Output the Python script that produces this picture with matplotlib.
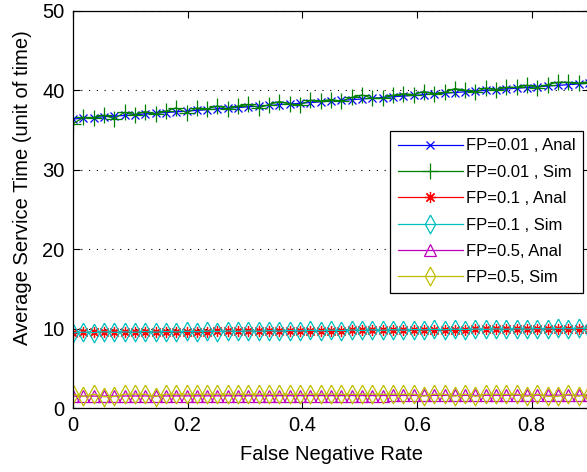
"""Average service time vs false negative rate (analytical vs simulated)."""

import numpy as np
import matplotlib

matplotlib.use("Agg")
import matplotlib.pyplot as plt

# false negative rate grid (0 .. 0.9, 51 points)
fnr = np.linspace(0.0, 0.9, 51)

anal_fp001 = [
    36.40, 36.49, 36.58, 36.67, 36.76, 36.85, 36.94, 37.03, 37.12, 37.21,
    37.30, 37.39, 37.48, 37.57, 37.66, 37.75, 37.84, 37.93, 38.02, 38.11,
    38.20, 38.29, 38.38, 38.47, 38.56, 38.65, 38.74, 38.83, 38.92, 39.01,
    39.10, 39.19, 39.28, 39.37, 39.46, 39.55, 39.64, 39.73, 39.82, 39.91,
    40.00, 40.09, 40.18, 40.27, 40.36, 40.45, 40.54, 40.63, 40.72, 40.81, 40.90,
]
sim_fp001 = [
    35.80, 36.59, 36.58, 36.87, 36.46, 37.25, 36.94, 37.33, 37.02, 37.41,
    37.80, 37.19, 37.78, 37.67, 38.06, 37.65, 38.04, 38.23, 37.82, 38.21,
    38.60, 38.29, 38.18, 38.77, 38.66, 38.85, 38.64, 39.13, 39.42, 39.01,
    39.00, 39.39, 39.58, 39.47, 39.86, 39.55, 39.74, 40.23, 40.02, 39.81,
    40.30, 40.09, 40.38, 40.37, 40.66, 40.35, 40.74, 41.03, 41.02, 40.91, 41.10,
]
anal_fp01 = [
    9.50, 9.51, 9.52, 9.53, 9.54, 9.55, 9.56, 9.57, 9.58, 9.59,
    9.60, 9.61, 9.62, 9.63, 9.64, 9.65, 9.66, 9.67, 9.68, 9.69,
    9.70, 9.71, 9.72, 9.73, 9.74, 9.75, 9.76, 9.77, 9.78, 9.79,
    9.80, 9.81, 9.82, 9.83, 9.84, 9.85, 9.86, 9.87, 9.88, 9.89,
    9.90, 9.91, 9.92, 9.93, 9.94, 9.95, 9.96, 9.97, 9.98, 9.99, 10.00,
]
sim_fp01 = [
    9.45, 9.55, 9.50, 9.60, 9.52, 9.58, 9.54, 9.62, 9.55, 9.63,
    9.58, 9.66, 9.60, 9.68, 9.62, 9.70, 9.64, 9.71, 9.66, 9.74,
    9.68, 9.76, 9.70, 9.78, 9.72, 9.80, 9.74, 9.82, 9.77, 9.84,
    9.79, 9.86, 9.81, 9.88, 9.84, 9.90, 9.86, 9.92, 9.88, 9.94,
    9.90, 9.96, 9.92, 9.98, 9.94, 10.00, 9.96, 10.02, 9.98, 10.05, 10.00,
]
anal_fp05 = [
    1.50, 1.50, 1.50, 1.51, 1.51, 1.51, 1.51, 1.52, 1.52, 1.52,
    1.52, 1.53, 1.53, 1.53, 1.53, 1.54, 1.54, 1.54, 1.54, 1.55,
    1.55, 1.55, 1.55, 1.56, 1.56, 1.56, 1.56, 1.57, 1.57, 1.57,
    1.57, 1.58, 1.58, 1.58, 1.58, 1.59, 1.59, 1.59, 1.59, 1.60,
    1.60, 1.60, 1.60, 1.61, 1.61, 1.61, 1.61, 1.62, 1.62, 1.62, 1.62,
]
sim_fp05 = [
    1.72, 1.45, 1.74, 1.42, 1.45, 1.73, 1.75, 1.72, 1.44, 1.74,
    1.73, 1.75, 1.72, 1.74, 1.73, 1.75, 1.74, 1.72, 1.75, 1.73,
    1.74, 1.72, 1.75, 1.73, 1.74, 1.75, 1.73, 1.72, 1.74, 1.75,
    1.73, 1.74, 1.72, 1.75, 1.48, 1.74, 1.73, 1.48, 1.75, 1.46,
    1.74, 1.73, 1.72, 1.75, 1.47, 1.74, 1.46, 1.47, 1.73, 1.48, 1.74,
]

labels = [
    "FP=0.01 , Anal",
    "FP=0.01 , Sim",
    "FP=0.1 , Anal",
    "FP=0.1 , Sim",
    "FP=0.5, Anal",
    "FP=0.5, Sim",
]

plt.rcParams["font.family"] = ["Liberation Sans", "DejaVu Sans"]

fig = plt.figure(figsize=(5.87, 4.72), dpi=100)
ax = fig.add_axes([73 / 587, 64 / 472, 516 / 587, 397 / 472])

# matlab-style asterisk and tall narrow diamond
asterisk = (8, 2, 0)
tall_diamond = [(0, 1), (0.55, 0), (0, -1), (-0.55, 0), (0, 1)]
series = [
    (anal_fp001, "#0000ff", "x", 5.5),
    (sim_fp001, "#008000", "+", 11),
    (anal_fp01, "#ff0000", asterisk, 8),
    (sim_fp01, "#00bfbf", tall_diamond, 13.5),
    (anal_fp05, "#bf00bf", "^", 8.5),
    (sim_fp05, "#bfbf00", tall_diamond, 13.5),
]
for (values, colour, marker, size), label in zip(series, labels):
    ax.plot(
        fnr, values, color=colour, marker=marker, markersize=size,
        markerfacecolor="none", markeredgecolor=colour, markeredgewidth=0.9,
        linewidth=0.9, label=label,
    )

ax.set_xlim(0, 0.9)
ax.set_ylim(0, 50)
ax.set_xticks([0, 0.2, 0.4, 0.6, 0.8])
ax.set_xticklabels(["0", "0.2", "0.4", "0.6", "0.8"])
ax.set_yticks([0, 10, 20, 30, 40, 50])
ax.yaxis.grid(True, color="black", linestyle=(0, (1, 6)), linewidth=0.8)
ax.set_axisbelow(True)
ax.tick_params(direction="in", length=5, top=True, right=True, labelsize=14.5,
               colors="black", pad=6)
for spine in ax.spines.values():
    spine.set_linewidth(0.9)

ax.set_xlabel("False Negative Rate", fontsize=14.5)
ax.set_ylabel("Average Service Time (unit of time)", fontsize=14.5)
ax.yaxis.set_label_coords(-50 / 516, (408 - 188) / 397)
ax.xaxis.set_label_coords(0.5, -(455 - 408) / 397)
ax.xaxis.label.set_va("center")
ax.yaxis.label.set_va("center")

leg = ax.legend(
    loc="upper right", bbox_to_anchor=((583 - 73) / 516, (408 - 131) / 397),
    fontsize=12, frameon=True, fancybox=False, framealpha=1, edgecolor="black",
    handlelength=3.9, labelspacing=0.68, borderaxespad=0, handletextpad=0.2,
    borderpad=0.45,
)
leg.get_frame().set_linewidth(0.9)

fig.savefig("out.png", dpi=100)
